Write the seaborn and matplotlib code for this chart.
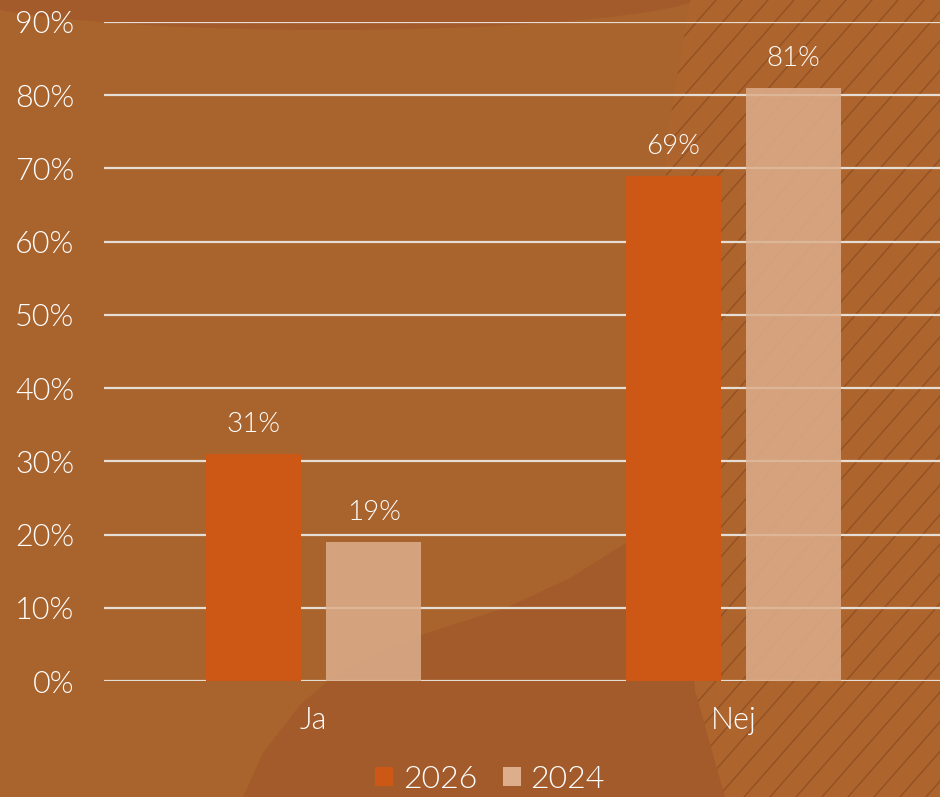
import matplotlib
matplotlib.use('Agg')
import matplotlib.pyplot as plt
import matplotlib.patches as mpatches
import seaborn as sns
import pandas as pd
import numpy as np

# data
answers = ['Ja', 'Nej']
share_2026 = [31, 69]
share_2024 = [19, 81]
years = ['2026', '2024']
ticks = [0, 10, 20, 30, 40, 50, 60, 70, 80, 90]

df = pd.DataFrame({
    'answer': answers * 2,
    'share': share_2026 + share_2024,
    'year': [years[0]] * 2 + [years[1]] * 2,
})

bg = '#A9632D'
c26 = '#CD5815'
c24 = '#DCAE8C'
txt = 'white'

sns.set_theme(style='white')
plt.rcParams['font.family'] = ['Lato', 'DejaVu Sans']

fig = plt.figure(figsize=(9.4, 7.97), dpi=100)
fig.patch.set_facecolor(bg)

# background decoration, drawn in a pixel-based axes behind the chart
deco = fig.add_axes([0, 0, 1, 1], zorder=-1)
deco.set_xlim(0, 940)
deco.set_ylim(797, 0)
deco.axis('off')
deco.add_patch(mpatches.Polygon([(243, 797), (263, 753), (300, 705), (329, 680),
                                 (380, 652), (427, 633), (508, 607), (570, 578),
                                 (626, 543), (700, 505), (800, 480), (800, 797)],
                                closed=True, facecolor='#A35B2B', edgecolor='none'))
deco.add_patch(mpatches.Ellipse((330, -10), 760, 80, facecolor='#A35B2C',
                                edgecolor='none'))
hatch_poly = mpatches.Polygon([(690, 0), (940, 0), (940, 797), (725, 797),
                               (695, 690), (675, 400), (665, 150)],
                              closed=True, facecolor='#AE652D', edgecolor='none')
deco.add_patch(hatch_poly)
for x0 in np.arange(300, 1900, 26):
    ln, = deco.plot([x0 - 700, x0], [797, 0], color='#8C4C22', lw=1.1,
                    alpha=0.75)
    ln.set_clip_path(hatch_poly)

ax = fig.add_axes([103.5 / 940, 0.1455, 840 / 940, 0.8269])
ax.patch.set_alpha(0)

sns.barplot(data=df, x='answer', y='share', hue='year', hue_order=years,
            palette=[c26, c24], width=0.573, gap=0.215, saturation=1,
            linewidth=0, ax=ax, zorder=3)
for i, cont in enumerate(ax.containers):
    if i == 1:
        for b in cont:
            b.set_alpha(0.85)
    ax.bar_label(cont, labels=[f'{v:.0f}%' for v in cont.datavalues],
                 padding=12, color=txt, fontsize=20, fontweight=300)

ax.set_ylim(0, 90)
ax.set_xlim(-0.5, 1.5)
ax.set_yticks(ticks)
ax.set_yticklabels([f'{t}%' for t in ticks], fontweight=300)
ax.yaxis.grid(True, color='#E6DDD5', linewidth=1.6, zorder=1)
ax.set_axisbelow(True)
for s in ax.spines.values():
    s.set_visible(False)
ax.tick_params(axis='y', colors=txt, labelsize=22, pad=21, length=0)
ax.tick_params(axis='x', colors=txt, labelsize=22, pad=18, length=0)
for t in ax.get_xticklabels():
    t.set_fontweight(300)
ax.set_xlabel('')
ax.set_ylabel('')

leg = ax.legend(loc='center', bbox_to_anchor=(490 / 940, 0.022),
                bbox_transform=fig.transFigure, ncol=2, frameon=False,
                handlelength=0.56, handleheight=0.56, handletextpad=0.3,
                columnspacing=0.8, borderaxespad=0, borderpad=0,
                prop={'weight': 300, 'size': 23})
for t in leg.get_texts():
    t.set_color(txt)

fig.savefig('out.png', dpi=100, facecolor=bg)
